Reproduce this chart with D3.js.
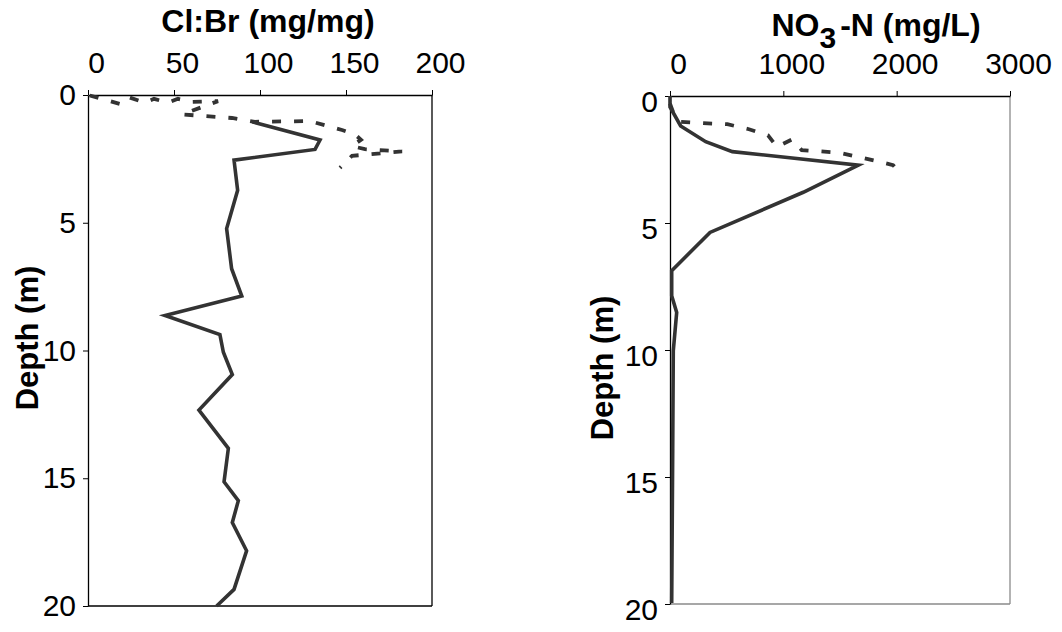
<!DOCTYPE html>
<html>
<head>
<meta charset="utf-8">
<script src="https://cdn.jsdelivr.net/npm/d3@7"></script>
<style>
  body { margin: 0; background: #fff; }
  text { font-family: "Liberation Sans", Arial, sans-serif; }
</style>
</head>
<body>
<div class="graph"></div>
<script>
// data //
let clbrSolidDepth = [1.05, 1.76, 2.13, 2.55, 3.73, 5.23, 6.8, 7.87, 8.63, 9.38, 10.07, 10.94, 12.33, 13.83, 15.14, 15.88, 16.73, 17.84, 19.35, 20.0];
let clbrSolidValue = [95.5, 134.9, 132, 84.9, 87, 80.6, 83.5, 89.4, 44.8, 76.7, 78.7, 83.9, 64.5, 81.6, 79.1, 87.4, 83.9, 92.2, 84.9, 74.8];

let clbrDashDepth = [0.02, 0.35, 0.08, 0.3, 0.15, 0.3, 0.15, 0.27, 0.24, 0.76, 0.9, 1.05, 1.02, 1.37, 1.54, 1.75, 2.0, 2.12, 2.21, 2.38, 2.85];
let clbrDashValue = [1, 18.6, 23.3, 33, 38.4, 46.5, 52.3, 60.5, 75.6, 54.7, 83.7, 97, 129, 147.7, 155.2, 158.7, 153.5, 161, 182.6, 153.5, 146.5];

let no3SolidDepth = [0, 0.43, 1.18, 1.8, 2.19, 2.72, 3.79, 5.37, 6.88, 7.86, 8.52, 10.03, 13.9, 19.96];
let no3SolidValue = [0, 0, 94, 315, 550, 1662, 1176, 353, 15, 15, 59, 29, 24, 15];

let no3DashDepth = [0.3, 0.72, 1.02, 1.07, 1.11, 1.31, 1.55, 2.0, 1.71, 2.13, 2.23, 2.35, 2.55, 2.72, 2.95];
let no3DashValue = [0, 35, 94, 294, 506, 697, 865, 944, 1077, 1162, 1492, 1612, 1809, 1968, 2012];

let depthTicks = [0, 5, 10, 15, 20];
let clbrTicks = [0, 50, 100, 150, 200];
let no3Ticks = [0, 1000, 2000, 3000];

// sizes //
let w = 1062;
let h = 632;
let lineColor = '#333333';

let svg = d3.select('.graph')
    .append('svg')
    .attr('width', w)
    .attr('height', h)
    .style('background-color', '#ffffff');

function panel(opts) {
    let x = d3.scaleLinear().domain(opts.xDomain).range([opts.left, opts.right]);
    let y = d3.scaleLinear().domain([0, 20]).range([opts.top, opts.bottom]);

    let g = svg.append('g');

    // right + bottom border
    g.append('line')
        .attr('x1', opts.right).attr('x2', opts.right)
        .attr('y1', opts.top).attr('y2', opts.bottom)
        .attr('stroke', opts.borderColor).attr('stroke-width', 1.3);
    g.append('line')
        .attr('x1', opts.left).attr('x2', opts.right)
        .attr('y1', opts.bottom).attr('y2', opts.bottom)
        .attr('stroke', opts.borderColor).attr('stroke-width', 1.3);

    let xAxis = d3.axisTop(x).tickValues(opts.xTicks).tickFormat(d3.format('d'))
        .tickSize(5).tickSizeOuter(0).tickPadding(17);
    let yAxis = d3.axisLeft(y).tickValues(depthTicks).tickSize(5).tickSizeOuter(0).tickPadding(7);

    let gx = g.append('g')
        .attr('transform', 'translate(0,' + opts.top + ')')
        .call(xAxis);
    let gy = g.append('g')
        .attr('transform', 'translate(' + opts.left + ',0)')
        .call(yAxis);

    [gx, gy].forEach(a => {
        a.select('.domain').attr('stroke', '#000').attr('stroke-width', 1.3);
        a.selectAll('.tick line').attr('stroke', '#000').attr('stroke-width', 1);
        a.selectAll('.tick text')
            .attr('fill', '#000')
            .style('font-size', '30px');
    });
    gx.selectAll('.tick text').attr('dx', 8);
    gy.selectAll('.tick text').attr('dy', opts.yLabelDy);

    let line = d3.line().x(d => x(d[0])).y(d => y(d[1]));

    let dashData = opts.dashValue.map((v, i) => [v, opts.dashDepth[i]]);
    let solidData = opts.solidValue.map((v, i) => [v, opts.solidDepth[i]]);

    g.append('path')
        .datum(dashData)
        .attr('d', line)
        .attr('fill', 'none')
        .attr('stroke', lineColor)
        .attr('stroke-width', 3.8)
        .attr('stroke-dasharray', '9,13');

    g.append('path')
        .datum(solidData)
        .attr('d', line)
        .attr('fill', 'none')
        .attr('stroke', lineColor)
        .attr('stroke-width', 3.6)
        .attr('stroke-linejoin', 'miter');

    // depth title
    g.append('text')
        .attr('transform', 'translate(' + opts.yTitleX + ',' + opts.yTitleY + ') rotate(-90)')
        .attr('text-anchor', 'middle')
        .style('font-size', '31px')
        .style('font-weight', 'bold')
        .text('Depth (m)');

    return g;
}

let left = panel({
    left: 88, right: 432, top: 95, bottom: 606,
    xDomain: [0, 200], xTicks: clbrTicks,
    solidDepth: clbrSolidDepth, solidValue: clbrSolidValue,
    dashDepth: clbrDashDepth, dashValue: clbrDashValue,
    borderColor: '#000', yLabelDy: '0.32em',
    yTitleX: 38, yTitleY: 338
});

let right = panel({
    left: 670, right: 1010, top: 96, bottom: 604,
    xDomain: [0, 3000], xTicks: no3Ticks,
    solidDepth: no3SolidDepth, solidValue: no3SolidValue,
    dashDepth: no3DashDepth, dashValue: no3DashValue,
    borderColor: '#8a8a8a', yLabelDy: '0.5em',
    yTitleX: 613, yTitleY: 368
});

// panel titles
svg.append('text')
    .attr('x', 268)
    .attr('y', 32)
    .attr('text-anchor', 'middle')
    .style('font-size', '32px')
    .style('font-weight', 'bold')
    .text('Cl:Br (mg/mg)');

let t2 = svg.append('text')
    .attr('x', 876)
    .attr('y', 36)
    .attr('text-anchor', 'middle')
    .style('font-size', '32px')
    .style('font-weight', 'bold');
t2.append('tspan').text('NO');
t2.append('tspan').attr('dy', 12).style('font-size', '30px').text('3');
t2.append('tspan').attr('dy', -12).attr('dx', 4).text('-N (mg/L)');
</script>
</body>
</html>
